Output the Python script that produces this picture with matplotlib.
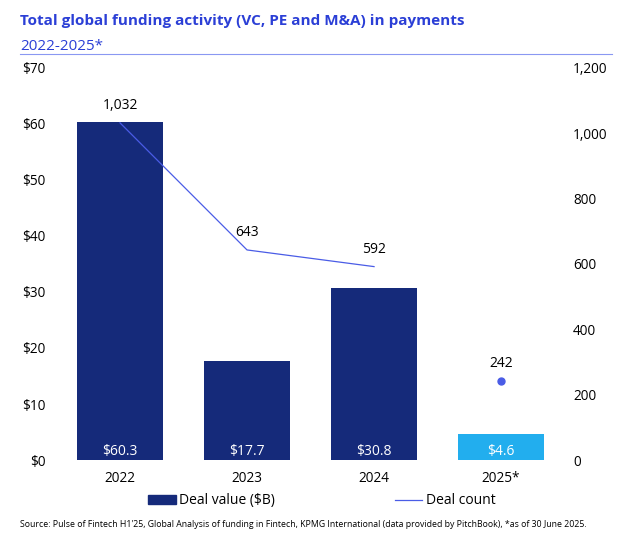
import matplotlib
matplotlib.use("Agg")
import matplotlib.pyplot as plt
from matplotlib.lines import Line2D
from matplotlib.patches import Patch

plt.rcParams['font.family'] = ['Open Sans', 'DejaVu Sans']

years = ['2022', '2023', '2024', '2025*']
deal_value = [60.3, 17.7, 30.8, 4.6]
deal_count = [1032, 643, 592, 242]

navy = '#152a7a'
light = '#22aeee'
line_col = '#4a5ce6'
title_col = '#2b3fd6'

fig = plt.figure(figsize=(6.3, 5.46), dpi=100)
ax = fig.add_axes([0.0897, 0.1575, 0.8064, 0.718])
ax2 = ax.twinx()

x = list(range(len(years)))
colors = [navy, navy, navy, light]
ax.bar(x, deal_value, width=0.67, color=colors, zorder=1)
for xi, v in zip(x, deal_value):
    ax.text(xi, 1.6, f'${v}', ha='center', va='center', color='white', fontsize=10)

ax.set_ylim(0, 70)
ax.set_xlim(-0.5, 3.5)
ax.set_yticks(range(0, 71, 10))
ax.set_yticklabels([f'${v}' for v in range(0, 71, 10)])
ax.set_xticks(x)
ax.set_xticklabels(years)

ax2.set_ylim(0, 1200)
ax2.set_yticks(range(0, 1201, 200))
ax2.set_yticklabels([f'{v:,}' for v in range(0, 1201, 200)])

ax2.plot(x[:3], deal_count[:3], color=line_col, lw=0.9)
ax2.plot(x[3], deal_count[3], 'o', color=line_col, ms=5)
for xi, c in zip(x, deal_count):
    ax2.annotate(f'{c:,}', (xi, c), xytext=(0, 7), textcoords='offset points',
                 ha='center', va='bottom', fontsize=10)

for a in (ax, ax2):
    for s in a.spines.values():
        s.set_visible(False)
    a.tick_params(length=0, labelsize=9.8, colors='black')
ax.tick_params(axis='y', pad=8)
ax2.tick_params(axis='y', pad=6)
ax.tick_params(axis='x', pad=8)

fig.text(0.032, 0.962, 'Total global funding activity (VC, PE and M&A) in payments',
         color=title_col, fontsize=11, fontweight='bold', va='center')
fig.text(0.032, 0.914, '2022-2025*', color=title_col, fontsize=11, va='center')
fig.add_artist(Line2D([0.032, 0.971], [0.901, 0.901], color='#8a98f2', lw=0.8))

handles = [Patch(color=navy), Line2D([], [], color=line_col, lw=0.9)]
leg = fig.legend(handles, ['Deal value ($B)', 'Deal count'], loc='center',
                 bbox_to_anchor=(0.511, 0.083), ncol=2, frameon=False, fontsize=10,
                 columnspacing=8.6, handlelength=2.0, handleheight=0.6,
                 handletextpad=0.25)

fig.text(0.032, 0.04, "Source: Pulse of Fintech H1'25, Global Analysis of funding in Fintech, "
         "KPMG International (data provided by PitchBook), *as of 30 June 2025.",
         fontsize=6.3, va='center')

fig.savefig('out.png', dpi=100)
